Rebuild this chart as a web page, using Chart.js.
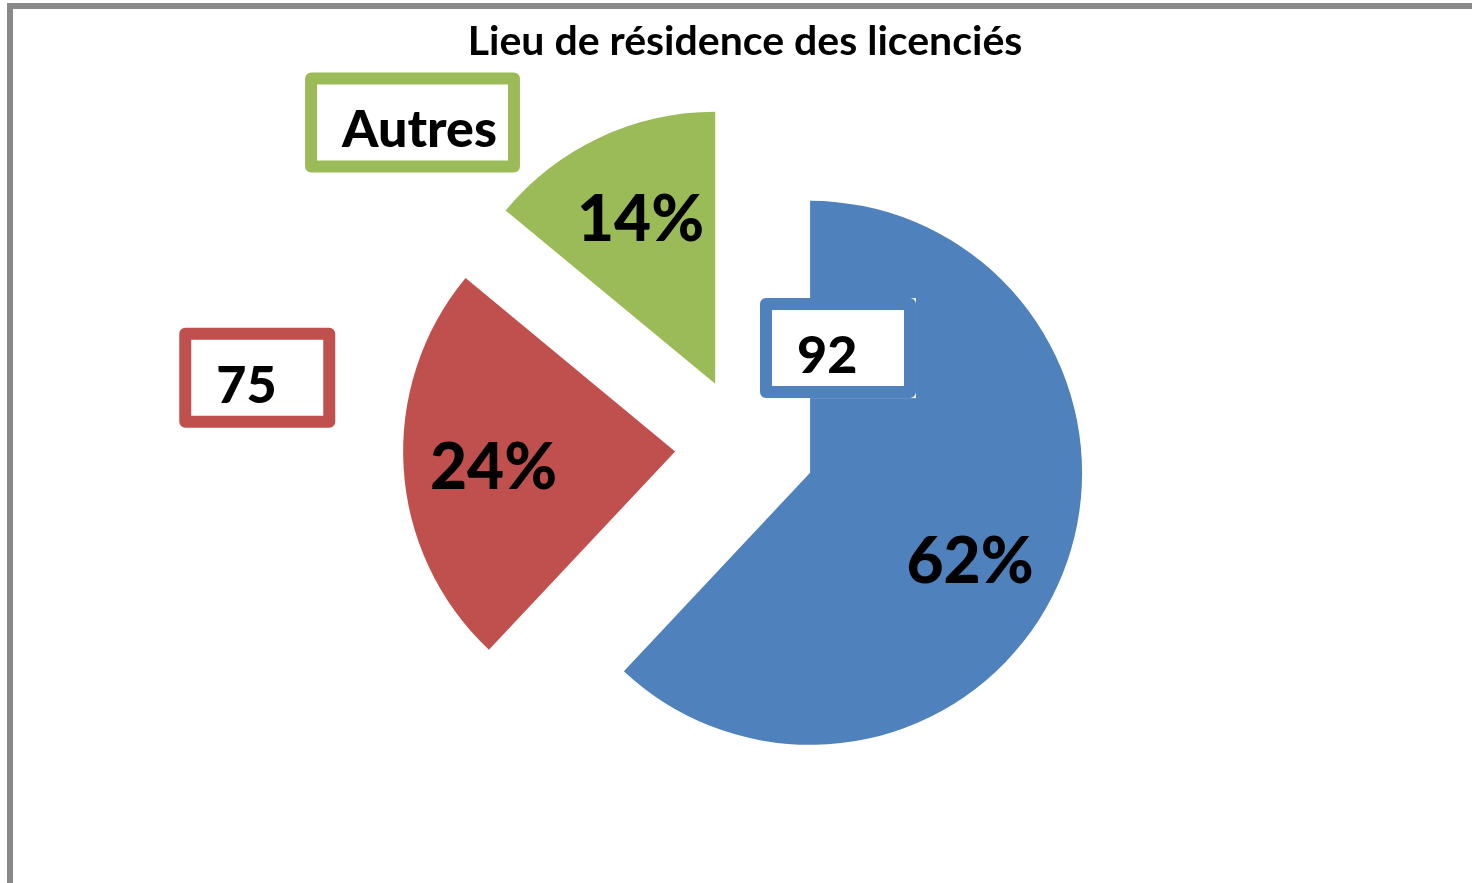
<!DOCTYPE html>
<html>
<head>
<meta charset="utf-8">
<title>Lieu de résidence des licenciés</title>
<script src="https://cdn.jsdelivr.net/npm/chart.js@4.4.1/dist/chart.umd.min.js"></script>
<style>
  html, body { margin: 0; padding: 0; background: #fff; overflow: hidden; }
  .frame { position: absolute; left: 7px; top: 3px; width: 1600px; height: 1000px; border: 6px solid #898989; }
  .chart-box { position: absolute; left: 0; top: 0; width: 1472px; height: 883px; }
</style>
</head>
<body>
<div class="frame"></div>
<div class="chart-box"><canvas id="pie"></canvas></div>
<script>
const categories = ['92', '75', 'Autres'];
const percentages = [62, 24, 14];
const sliceColors = ['#4F81BD', '#C0504D', '#9BBB59'];

// where the labels sit, relative to each (exploded) slice
const boxAngleShift = [-99, 13.6, -24];   // degrees away from the slice middle
const boxDistance = [0.47, 1.56, 1.47];   // x radius
const pctAngleShift = [7, -1, 1];
const pctDistance = 0.67;
const EXPLODE = 70;

const toRad = d => d * Math.PI / 180;

// pull every slice out from the centre along its middle angle
const explode = {
    id: 'explode',
    beforeDatasetDraw(chart, args) {
        const { left, right, top, bottom } = chart.chartArea;
        const cx = (left + right) / 2;
        const cy = (top + bottom) / 2;
        args.meta.data.forEach(arc => {
            const mid = (arc.startAngle + arc.endAngle) / 2;
            arc.x = cx + Math.cos(mid) * EXPLODE;
            arc.y = cy + Math.sin(mid) * EXPLODE;
        });
    }
};

const sliceLabels = {
    id: 'sliceLabels',
    afterDatasetsDraw(chart) {
        const ctx = chart.ctx;
        const arcs = chart.getDatasetMeta(0).data;
        arcs.forEach((arc, i) => {
            const r = arc.outerRadius;
            const mid = (arc.startAngle + arc.endAngle) / 2;
            ctx.save();

            // percentage inside the slice
            let a = mid + toRad(pctAngleShift[i]);
            ctx.font = '900 64px Lato';
            ctx.fillStyle = '#000';
            ctx.textAlign = 'center';
            ctx.textBaseline = 'alphabetic';
            ctx.fillText(percentages[i] + '%',
                arc.x + Math.cos(a) * r * pctDistance,
                arc.y + Math.sin(a) * r * pctDistance + 23);

            // category name in a framed box
            a = mid + toRad(boxAngleShift[i]);
            const bx = arc.x + Math.cos(a) * r * boxDistance[i];
            const by = arc.y + Math.sin(a) * r * boxDistance[i];
            ctx.font = '900 52px Lato';
            const tw = ctx.measureText(categories[i]).width;
            const w = Math.max(156, tw + 60);
            const h = 100;
            const left = bx - w / 2;
            const top = by - h / 2;
            ctx.fillStyle = '#fff';
            ctx.fillRect(left, top, w, h);
            ctx.strokeStyle = sliceColors[i];
            ctx.lineWidth = 12;
            ctx.lineJoin = 'round';
            ctx.strokeRect(left + 6, top + 6, w - 12, h - 12);
            ctx.fillStyle = '#000';
            ctx.textAlign = 'left';
            ctx.fillText(categories[i], left + 37, top + 75);

            ctx.restore();
        });
    }
};

new Chart(document.getElementById('pie'), {
    type: 'pie',
    data: {
        labels: categories,
        datasets: [{
            data: percentages,
            backgroundColor: sliceColors,
            borderWidth: 0
        }]
    },
    options: {
        responsive: true,
        maintainAspectRatio: false,
        animation: false,
        events: [],
        radius: 272,
        layout: { padding: { left: 18, right: 0, top: 0, bottom: 55 } },
        plugins: {
            legend: { display: false },
            tooltip: { enabled: false },
            title: {
                display: true,
                text: 'Lieu de résidence des licenciés',
                color: '#000',
                font: { family: 'Lato', size: 41, weight: 'bold', lineHeight: 1.2 },
                padding: { top: 17, bottom: 0 }
            }
        }
    },
    plugins: [explode, sliceLabels]
});
</script>
</body>
</html>
